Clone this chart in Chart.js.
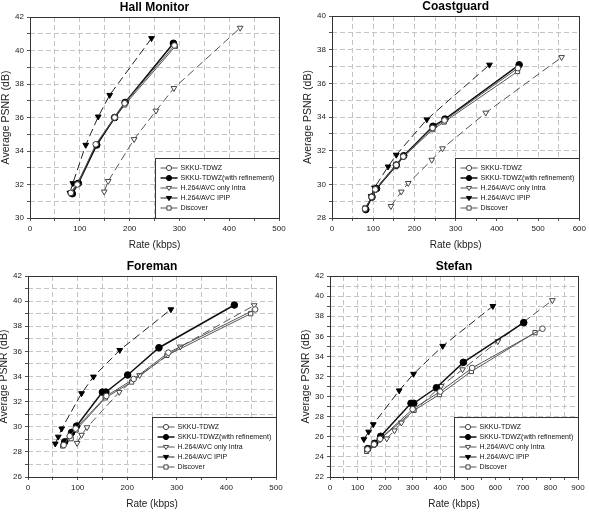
<!DOCTYPE html>
<html>
<head>
<meta charset="utf-8">
<script src="https://cdn.jsdelivr.net/npm/chart.js@4/dist/chart.umd.min.js"></script>
<style>
body { margin: 0; background: #fff; }
#wrap { position: relative; width: 589px; height: 512px; }
canvas { position: absolute; }
</style>
</head>
<body>
<div id="wrap">
<canvas id="c0" width="294" height="256" style="left:0;top:0"></canvas>
<canvas id="c1" width="295" height="256" style="left:294px;top:0"></canvas>
<canvas id="c2" width="294" height="256" style="left:0;top:256px"></canvas>
<canvas id="c3" width="295" height="256" style="left:294px;top:256px"></canvas>
</div>
<script>
var seriesNames = ["SKKU-TDWZ", "SKKU-TDWZ(with refinement)", "H.264/AVC only Intra", "H.264/AVC IPIP", "Discover"];
var panelTitles = ["Hall Monitor", "Coastguard", "Foreman", "Stefan"];
var xMax = [500, 600, 500, 900];
var yMin = [30, 28, 26, 22];
var yMax = [42, 40, 42, 42];

// [rate kbps, PSNR dB]
var hallSkku = [[82,31.5],[95,32.0],[132,34.4],[170,36.0],[190,36.85],[290,40.3]];
var hallRefine = [[85,31.45],[97,32.07],[134,34.36],[170,36.0],[191,36.9],[288,40.43]];
var hallIntra = [[149,31.57],[157,32.2],[209,34.7],[253,36.4],[289,37.75],[422,41.35]];
var hallIpip = [[80,31.5],[86,32.07],[112,34.36],[137,36.05],[160,37.34],[244,40.73]];
var hallDiscover = [[81,31.5],[95,32.05],[133,34.35],[170,35.95],[190,36.75],[292,40.25]];

var coastSkku = [[80,28.55],[96,29.25],[105,29.7],[156,31.15],[173,31.65],[244,33.35],[273,33.8],[451,36.9]];
var coastRefine = [[82,28.5],[97,29.25],[108,29.75],[156,31.15],[174,31.7],[245,33.45],[274,33.88],[454,37.1]];
var coastIntra = [[143,28.7],[168,29.56],[185,30.07],[242,31.45],[268,32.13],[373,34.25],[557,37.55]];
var coastIpip = [[95,29.3],[103,29.8],[136,31.05],[156,31.75],[230,33.85],[382,37.1]];
var coastDiscover = [[80,28.6],[96,29.2],[104,29.65],[155,31.05],[172,31.6],[244,33.25],[272,33.7],[450,36.7]];

var foreSkku = [[72,28.55],[84,29.26],[96,29.85],[158,32.45],[213,33.8],[283,35.9],[458,39.34]];
var foreRefine = [[74,28.8],[88,29.55],[98,30.06],[150,32.76],[157,32.76],[201,34.12],[264,36.29],[416,39.69]];
var foreIntra = [[99,28.7],[108,29.35],[119,29.95],[184,32.76],[225,34.1],[307,36.37],[456,39.66]];
var foreIpip = [[55,28.65],[61,29.2],[68,29.85],[108,32.66],[132,33.98],[185,36.1],[288,39.34]];
var foreDiscover = [[70,28.47],[87,29.05],[97,29.74],[156,32.3],[209,33.56],[280,35.68],[449,39.0]];

var stefSkku = [[136,24.75],[160,25.25],[182,25.8],[300,28.75],[400,30.5],[516,32.85],[771,36.76]];
var stefRefine = [[137,24.82],[162,25.35],[184,26.05],[294,29.33],[304,29.33],[386,30.88],[484,33.41],[703,37.36]];
var stefIntra = [[206,25.82],[234,26.62],[259,27.4],[403,31.05],[481,32.7],[609,35.5],[807,39.58]];
var stefIpip = [[123,25.75],[140,26.5],[157,27.24],[251,30.6],[303,32.25],[409,35.03],[591,39.0]];
var stefDiscover = [[133,24.55],[158,25.15],[178,25.68],[305,28.63],[397,30.2],[513,32.5],[744,36.36]];

var panelData = [
  [hallSkku, hallRefine, hallIntra, hallIpip, hallDiscover],
  [coastSkku, coastRefine, coastIntra, coastIpip, coastDiscover],
  [foreSkku, foreRefine, foreIntra, foreIpip, foreDiscover],
  [stefSkku, stefRefine, stefIntra, stefIpip, stefDiscover]
];

// plot area of each canvas: left, top, right, bottom
var areas = [
  {l: 30, t: 17, r: 279, b: 218},
  {l: 38, t: 16, r: 287, b: 218},
  {l: 28, t: 20, r: 276, b: 221},
  {l: 36, t: 20, r: 284, b: 221}
];

var looks = [
  {line: "#555", width: 1, dash: [], point: "circle", rot: 0, r: 2.8, fill: "#fff", edge: "#444"},
  {line: "#111", width: 1.5, dash: [], point: "circle", rot: 0, r: 3.3, fill: "#000", edge: "#000"},
  {line: "#555", width: 1, dash: [8, 4], point: "triangle", rot: 180, r: 3.3, fill: "#fff", edge: "#444"},
  {line: "#222", width: 1, dash: [8, 4], point: "triangle", rot: 180, r: 3.3, fill: "#000", edge: "#000"},
  {line: "#555", width: 1, dash: [], point: "rect", rot: 0, r: 3, fill: "#fff", edge: "#444"}
];

var fontFam = "'Liberation Sans', Arial, sans-serif";

function mark(ctx, s, x, y, r) {
  ctx.save();
  ctx.setLineDash([]);
  ctx.lineWidth = 1;
  ctx.fillStyle = s.fill;
  ctx.strokeStyle = s.edge;
  ctx.beginPath();
  if (s.point == "circle") {
    ctx.arc(x, y, r, 0, Math.PI * 2);
  } else if (s.point == "triangle") {
    ctx.moveTo(x - r, y - r * 0.6);
    ctx.lineTo(x + r, y - r * 0.6);
    ctx.lineTo(x, y + r);
    ctx.closePath();
  } else {
    ctx.rect(x - r * 0.8, y - r * 0.8, r * 1.6, r * 1.6);
  }
  ctx.fill();
  ctx.stroke();
  ctx.restore();
}

var framePlugin = {
  id: "frame",
  beforeDatasetsDraw: function(chart) {
    var a = chart.chartArea, ctx = chart.ctx;
    ctx.save();
    ctx.strokeStyle = "#333";
    ctx.lineWidth = 1;
    ctx.strokeRect(Math.round(a.left) + 0.5, Math.round(a.top) + 0.5, Math.round(a.right - a.left), Math.round(a.bottom - a.top));
    ctx.restore();
  }
};

var legendPlugin = {
  id: "legendBox",
  afterDraw: function(chart) {
    var a = chart.chartArea, ctx = chart.ctx;
    var w = 124, h = 60;
    var x0 = Math.round(a.right - w) + 0.5, y0 = Math.round(a.bottom - h) + 0.5;
    ctx.save();
    ctx.fillStyle = "#fff";
    ctx.strokeStyle = "#333";
    ctx.lineWidth = 1;
    ctx.fillRect(x0, y0, w, h);
    ctx.strokeRect(x0, y0, w, h);
    ctx.font = "7px " + fontFam;
    ctx.textBaseline = "middle";
    chart.data.datasets.forEach(function(ds, k) {
      var s = looks[k];
      var y = y0 + 9.5 + k * 10;
      ctx.save();
      ctx.strokeStyle = s.line;
      ctx.lineWidth = s.width;
      ctx.beginPath();
      ctx.moveTo(x0 + 5, y);
      ctx.lineTo(x0 + 22, y);
      ctx.stroke();
      ctx.restore();
      mark(ctx, s, x0 + 13.5, y, 2.6);
      ctx.fillStyle = "#111";
      ctx.fillText(ds.label, x0 + 25, y + 0.5);
    });
    ctx.restore();
  }
};

function makeChart(i) {
  var a = areas[i];
  var cv = document.getElementById("c" + i);
  var sets = panelData[i].map(function(pts, k) {
    var s = looks[k];
    return {
      label: seriesNames[k],
      data: pts.map(function(p) { return {x: p[0], y: p[1]}; }),
      borderColor: s.line,
      borderWidth: s.width,
      borderDash: s.dash,
      pointStyle: s.point,
      pointRotation: s.rot,
      pointRadius: s.r,
      pointBackgroundColor: s.fill,
      pointBorderColor: s.edge,
      pointBorderWidth: 1,
      tension: 0,
      fill: false
    };
  });
  new Chart(cv, {
    type: "line",
    data: {datasets: sets},
    options: {
      responsive: false,
      animation: false,
      events: [],
      layout: {padding: {left: 0, right: cv.width - a.r, top: a.t - 16.7, bottom: 0}},
      plugins: {
        legend: {display: false},
        tooltip: {enabled: false},
        title: {
          display: true, text: panelTitles[i], fullSize: false, color: "#000",
          font: {family: fontFam, size: 12, weight: "bold"},
          padding: {top: 0, bottom: 2.3}
        }
      },
      scales: {
        x: {
          type: "linear", min: 0, max: xMax[i],
          ticks: {stepSize: 50, autoSkip: false, maxRotation: 0, color: "#222", padding: 3,
            font: {family: fontFam, size: 8},
            callback: function(v) { return v % 100 === 0 ? v : ""; }},
          grid: {color: "#c4c4c4", lineWidth: 1, tickLength: 3, tickColor: "#555"},
          border: {display: false, dash: [5, 3]},
          title: {display: true, text: "Rate (kbps)", color: "#222",
            font: {family: fontFam, size: 10}, padding: {top: 0, bottom: 223 - a.b}},
          afterFit: function(s) { s.height = cv.height - a.b; }
        },
        y: {
          min: yMin[i], max: yMax[i],
          ticks: {stepSize: 1, autoSkip: false, color: "#222", padding: 3,
            font: {family: fontFam, size: 8},
            callback: function(v) { return v % 2 === 0 ? v : ""; }},
          grid: {color: "#c4c4c4", lineWidth: 1, tickLength: 3, tickColor: "#555"},
          border: {display: false, dash: [5, 3]},
          title: {display: true, text: "Average PSNR (dB)", color: "#222",
            font: {family: fontFam, size: 10.5}, padding: {top: a.l - 23.5 - 6.3, bottom: 0}},
          afterFit: function(s) { s.width = a.l; }
        }
      }
    },
    plugins: [framePlugin, legendPlugin]
  });
}

for (var i = 0; i < 4; i++) {
  makeChart(i);
}
</script>
</body>
</html>
